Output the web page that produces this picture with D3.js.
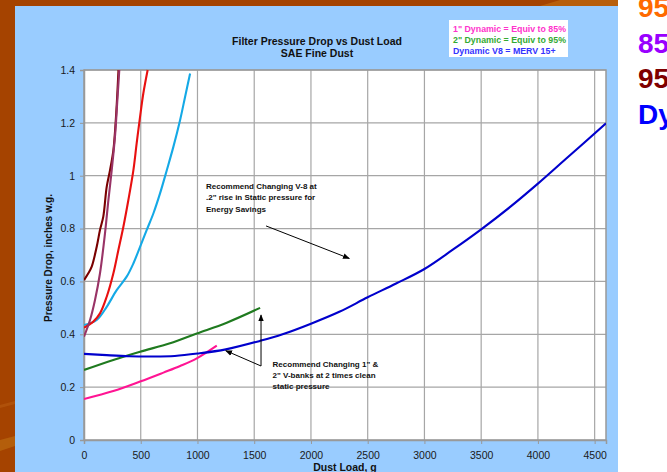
<!DOCTYPE html>
<html><head><meta charset="utf-8">
<script src="https://cdn.jsdelivr.net/npm/d3@7"></script>
<style>html,body{margin:0;padding:0;background:#fff;overflow:hidden}svg{display:block;font-family:Arial,"Liberation Sans",sans-serif}</style>
</head><body>
<script>
// ---- data ----
const xTicks = [0,500,1000,1500,2000,2500,3000,3500,4000,4500];
const yTicks = [0,0.2,0.4,0.6,0.8,1,1.2,1.4];
const titleLines = ["Filter Pressure Drop vs Dust Load","SAE Fine Dust"];
const xLabel = "Dust Load, g";
const yLabel = "Pressure Drop, inches w.g.";
const legendLines = ["1\" Dynamic = Equiv to 85%","2\" Dynamic = Equiv to 95%","Dynamic V8 = MERV 15+"];
const sideLabels = ["95","85","95","Dy"];

const darkRed = [[0,0.605],[38,0.631],[68,0.656],[112,0.731],[141,0.795],[170,0.845],[200,0.958],[229,1.02],[259,1.097],[282,1.223],[304,1.40]];
const purple  = [[0,0.391],[53,0.454],[97,0.53],[141,0.631],[185,0.782],[215,0.908],[244,1.02],[273,1.148],[294,1.286],[311,1.40]];
const red     = [[0,0.425],[82,0.448],[141,0.479],[200,0.542],[259,0.631],[303,0.719],[347,0.807],[391,0.908],[435,1.02],[464,1.122],[494,1.223],[523,1.312],[561,1.40]];
const cyan    = [[0,0.435],[112,0.454],[200,0.504],[288,0.567],[376,0.618],[435,0.668],[494,0.731],[553,0.795],[612,0.858],[670,0.933],[729,1.02],[788,1.11],[847,1.211],[891,1.299],[935,1.387]];
const green   = [[0,0.265],[258,0.303],[494,0.334],[758,0.366],[994,0.403],[1258,0.444],[1552,0.50]];
const pink    = [[0,0.155],[258,0.185],[494,0.221],[700,0.255],[847,0.28],[994,0.309],[1170,0.357]];
const blue    = [[0,0.326],[200,0.321],[400,0.317],[600,0.316],[800,0.318],[1000,0.327],[1250,0.343],[1550,0.375],[1750,0.40],[2000,0.44],[2250,0.485],[2500,0.54],[2750,0.592],[3000,0.647],[3250,0.72],[3500,0.797],[3750,0.88],[4000,0.97],[4250,1.065],[4600,1.198]];

const annot1 = ["Recommend Changing V-8 at",".2\" rise in Static pressure for","Energy Savings"];
const annot2 = ["Recommend Changing 1\" &","2\" V-banks at 2 times clean","static pressure"];

// ---- drawing ----
const W = 667, H = 472;
const svg = d3.select("body").append("svg").attr("width",W).attr("height",H);
const defs = svg.append("defs");

// background decoration
svg.append("rect").attr("x",0).attr("y",0).attr("width",W).attr("height",H).attr("fill","#a54300");
svg.append("polygon").attr("points","0,440 15,436 15,446 0,451").attr("fill","#bb6a10").attr("opacity",0.7);
svg.append("polygon").attr("points","0,405 15,401 15,404 0,408").attr("fill","#b85c10").attr("opacity",0.6);
svg.append("polygon").attr("points","560,0 618,0 618,6 540,6").attr("fill","#c06a10").attr("opacity",0.7);
svg.append("rect").attr("x",15).attr("y",6).attr("width",603).attr("height",H-6).attr("fill","#99ccff");
svg.append("rect").attr("x",618).attr("y",0).attr("width",W-618).attr("height",H).attr("fill","#ffffff");

const sideColors = ["#ff6a00","#9900ff","#800000","#0000ff"];
svg.selectAll("text.side").data(sideLabels).join("text").attr("class","side")
  .attr("x",638).attr("y",(d,i)=>17+i*35.5).attr("font-size",28).attr("font-weight","bold")
  .attr("fill",(d,i)=>sideColors[i]).text(d=>d);

const x = d3.scaleLinear().domain([0,4600]).range([84,606]);
const y = d3.scaleLinear().domain([0,1.4]).range([440,70]);

// plot area
svg.append("rect").attr("x",84).attr("y",70).attr("width",522).attr("height",370).attr("fill","#fff");

// grid
svg.append("g").selectAll("line").data(xTicks.slice(1)).join("line")
  .attr("x1",d=>x(d)).attr("x2",d=>x(d)).attr("y1",70).attr("y2",440).attr("stroke","#a6a6a6").attr("stroke-width",1.2);
svg.append("g").selectAll("line").data(yTicks.slice(1)).join("line")
  .attr("x1",84).attr("x2",606).attr("y1",d=>y(d)).attr("y2",d=>y(d)).attr("stroke","#a6a6a6").attr("stroke-width",1.2);
svg.append("rect").attr("x",84).attr("y",70).attr("width",522).attr("height",370).attr("fill","none").attr("stroke","#999").attr("stroke-width",1.5);

// axes
const xAxis = svg.append("g").attr("transform","translate(0,440)")
  .call(d3.axisBottom(x).tickValues(xTicks).tickSize(4).tickPadding(8).tickFormat(d3.format("d")));
const yAxis = svg.append("g").attr("transform","translate(84,0)")
  .call(d3.axisLeft(y).tickValues(yTicks).tickSize(4).tickPadding(5).tickFormat(d=>String(+d.toFixed(1))));
[xAxis,yAxis].forEach(g=>{
  g.select(".domain").attr("stroke","#999").attr("stroke-width",1.5);
  g.selectAll(".tick line").attr("stroke","#999");
  g.selectAll("text").attr("font-size",10.5).attr("fill","#1a1a1a").attr("font-family","Arial, 'Liberation Sans', sans-serif");
});

// clip
defs.append("clipPath").attr("id","pc").append("rect").attr("x",84).attr("y",69).attr("width",522).attr("height",371);

const line = d3.line().x(d=>x(d[0])).y(d=>y(d[1])).curve(d3.curveCatmullRom.alpha(0.5));
const series = [
  {d:cyan,c:"#14a9e6"},
  {d:red,c:"#e81010"},
  {d:darkRed,c:"#7a0000"},
  {d:purple,c:"#993366"},
  {d:green,c:"#1f7a1f"},
  {d:pink,c:"#ff1493"},
  {d:blue,c:"#0000cc"}
];
const lg = svg.append("g").attr("clip-path","url(#pc)");
lg.selectAll("path").data(series).join("path").attr("d",s=>line(s.d)).attr("fill","none")
  .attr("stroke",s=>s.c).attr("stroke-width",2.1).attr("stroke-linejoin","round");

// titles
svg.selectAll("text.title").data(titleLines).join("text").attr("class","title")
  .attr("x",317).attr("y",(d,i)=>44.5+i*12.5).attr("text-anchor","middle").attr("font-size",10.5)
  .attr("font-weight","bold").attr("fill","#111").text(d=>d);
svg.append("text").attr("x",345).attr("y",471).attr("text-anchor","middle").attr("font-size",10.5)
  .attr("font-weight","bold").attr("fill","#111").text(xLabel);
svg.append("text").attr("transform","translate(52,258) rotate(-90)").attr("text-anchor","middle")
  .attr("font-size",10).attr("font-weight","bold").attr("fill","#111").text(yLabel);

// legend box
svg.append("rect").attr("x",449).attr("y",20).attr("width",119).attr("height",37).attr("fill","#fff");
const legColors = ["#ff33cc","#33aa33","#3333ff"];
svg.selectAll("text.leg").data(legendLines).join("text").attr("class","leg")
  .attr("x",453).attr("y",(d,i)=>31.5+i*11).attr("font-size",8.8).attr("font-weight","bold")
  .attr("fill",(d,i)=>legColors[i]).text(d=>d);

// annotations
defs.append("marker").attr("id","ah").attr("viewBox","0 0 10 10").attr("refX",9).attr("refY",5)
  .attr("markerWidth",7).attr("markerHeight",7).attr("orient","auto")
  .append("path").attr("d","M0,1 L10,5 L0,9 Z").attr("fill","#000");
svg.selectAll("text.a1").data(annot1).join("text").attr("class","a1")
  .attr("x",x(1075)).attr("y",(d,i)=>y(0.95)+i*11.3).attr("font-size",8).attr("font-weight","bold").attr("fill","#111").text(d=>d);
svg.selectAll("text.a2").data(annot2).join("text").attr("class","a2")
  .attr("x",x(1662)).attr("y",(d,i)=>y(0.275)+i*10.8).attr("font-size",8).attr("font-weight","bold").attr("fill","#111").text(d=>d);
svg.append("line").attr("x1",x(1604)).attr("y1",y(0.81)).attr("x2",x(2338)).attr("y2",y(0.687))
  .attr("stroke","#000").attr("stroke-width",1).attr("marker-end","url(#ah)");
svg.append("line").attr("x1",x(1560)).attr("y1",y(0.28)).attr("x2",x(1249)).attr("y2",y(0.338))
  .attr("stroke","#000").attr("stroke-width",1).attr("marker-end","url(#ah)");
svg.append("line").attr("x1",x(1560)).attr("y1",y(0.28)).attr("x2",x(1560)).attr("y2",y(0.473))
  .attr("stroke","#000").attr("stroke-width",1).attr("marker-end","url(#ah)");
</script>
</body></html>
